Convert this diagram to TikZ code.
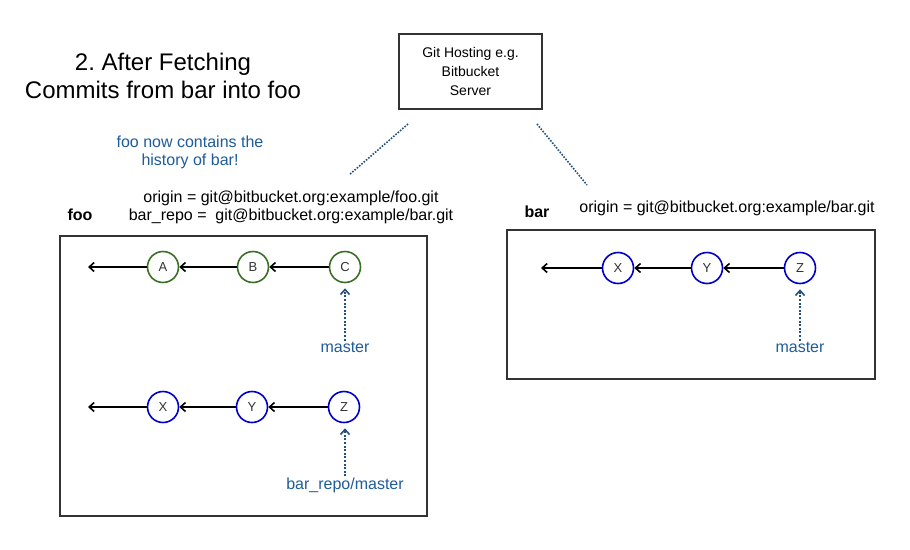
\documentclass[tikz,border=0pt]{standalone}
\usepackage{fontspec}
\setmainfont{Liberation Sans}
\usetikzlibrary{arrows.meta}
\definecolor{cgreen}{HTML}{3A7026}
\definecolor{cblue}{HTML}{0000CC}
\definecolor{ltext}{HTML}{1F5C99}
\definecolor{dotc}{HTML}{23507F}
\definecolor{boxc}{HTML}{333333}
\tikzset{
  gcommit/.style={circle,draw=cgreen,line width=1.6pt,minimum size=31pt,inner sep=0pt,font=\fontsize{13}{15}\selectfont,text=boxc},
  bcommit/.style={circle,draw=cblue,line width=1.6pt,minimum size=31pt,inner sep=0pt,font=\fontsize{13}{15}\selectfont,text=boxc},
  parent/.style={draw=black,line width=1.6pt,-{Straight Barb[length=5pt,width=9pt,line width=1.6pt]}},
  refarrow/.style={draw=dotc,line width=1.8pt,dash pattern=on 2pt off 1.6pt,line cap=butt,-{Straight Barb[length=5pt,width=9pt,line width=1.6pt]},shorten >=5pt},
  link/.style={draw=dotc,line width=1.6pt,dash pattern=on 1.6pt off 1.4pt},
  reflabel/.style={text=ltext,font=\fontsize{16}{18}\selectfont,inner sep=1pt},
  repobox/.style={draw=boxc,line width=1.6pt,inner sep=0pt},
  plain/.style={font=\fontsize{14}{19}\selectfont,align=center,inner sep=0pt},
  remote/.style={font=\fontsize{16}{18}\selectfont,align=center,inner sep=0pt},
  reponame/.style={font=\bfseries\fontsize{16}{18}\selectfont,inner sep=0pt},
}
\begin{document}
\begin{tikzpicture}[x=1pt,y=-1pt]
\useasboundingbox[fill=white] (0,0) rectangle (910,549);
% title
\node[font=\fontsize{24}{28}\selectfont,align=center,inner sep=0pt] (title) at (163,76) {2.\ After Fetching\\Commits from bar into foo};
% server
\node[repobox,minimum width=143pt,minimum height=75pt,plain] (server) at (470.5,71.5) {Git Hosting e.g.\\Bitbucket\\Server};
% note
\node[reflabel,align=center] (note) at (190,152) {foo now contains the\\history of bar!};
% links
\coordinate (l1a) at (408,124); \coordinate (l1b) at (349,175);
\coordinate (l2a) at (537,124); \coordinate (l2b) at (587,185);
\draw[link] (l1a) -- (l1b);
\draw[link] (l2a) -- (l2b);
% foo labels
\node[remote] (fooremote) at (291,207) {origin = git@bitbucket.org:example/foo.git\\bar\_repo =\ \ git@bitbucket.org:example/bar.git};
\node[reponame] (fooname) at (80,215) {foo};
% foo box
\draw[repobox] (60,236) rectangle (427,516);
\coordinate (fooroot) at (88,267);
\node[gcommit] (A) at (163,267) {A};
\node[gcommit] (B) at (253,267) {B};
\node[gcommit] (C) at (345,267) {C};
\draw[parent] (A) -- (fooroot);
\draw[parent] (B) -- (A);
\draw[parent] (C) -- (B);
\node[reflabel] (master1) at (345,347) {master};
\draw[refarrow] (master1.north) -- (master1.north |- C.south);
\coordinate (fooroot2) at (88,407);
\node[bcommit] (X1) at (163,407) {X};
\node[bcommit] (Y1) at (252,407) {Y};
\node[bcommit] (Z1) at (344,407) {Z};
\draw[parent] (X1) -- (fooroot2);
\draw[parent] (Y1) -- (X1);
\draw[parent] (Z1) -- (Y1);
\node[reflabel] (barmaster) at (345,485) {bar\_repo/master};
\draw[refarrow] (barmaster.north) -- (barmaster.north |- Z1.south);
% bar
\node[reponame] (barname) at (537,212) {bar};
\node[remote] (barremote) at (727,208) {origin = git@bitbucket.org:example/bar.git};
\draw[repobox] (507,230) rectangle (875,379);
\coordinate (barroot) at (541,268);
\node[bcommit] (X2) at (618,268) {X};
\node[bcommit] (Y2) at (707,268) {Y};
\node[bcommit] (Z2) at (800,268) {Z};
\draw[parent] (X2) -- (barroot);
\draw[parent] (Y2) -- (X2);
\draw[parent] (Z2) -- (Y2);
\node[reflabel] (master2) at (800,347) {master};
\draw[refarrow] (master2.north) -- (master2.north |- Z2.south);
\end{tikzpicture}
\end{document}
